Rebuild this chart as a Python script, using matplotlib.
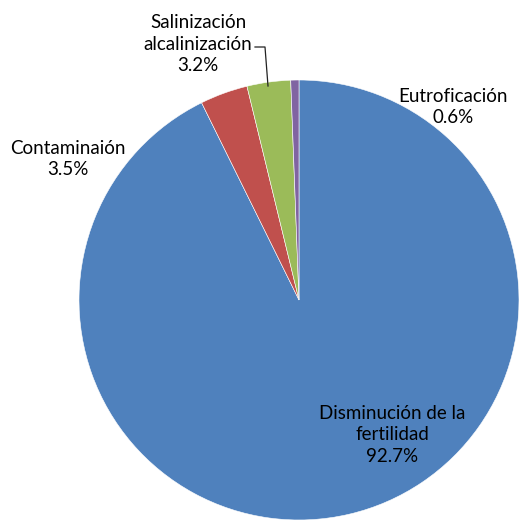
import matplotlib.pyplot as plt
from matplotlib.lines import Line2D

# Causas de degradación del suelo (%)
categorias = ["Disminución de la\nfertilidad", "Contaminaión",
              "Salinización\nalcalinización", "Eutroficación"]
porcentajes = [92.7, 3.5, 3.2, 0.6]
colores = ["#4F81BD", "#C0504D", "#9BBB59", "#8064A2"]

W, H = 519, 526
plt.rcParams['font.family'] = ['Lato', 'DejaVu Sans']

fig = plt.figure(figsize=(W / 100, H / 100), dpi=100)
cx, cy, r = 299, 300, 220
ax = fig.add_axes([(cx - r) / W, (H - cy - r) / H, 2 * r / W, 2 * r / H])
ax.pie(porcentajes, colors=colores, startangle=90, counterclock=False,
       radius=1, wedgeprops=dict(linewidth=0.4, edgecolor='white'))
ax.set_xlim(-1, 1)
ax.set_ylim(-1, 1)
ax.set_aspect('equal')
ax.axis('off')


def px(x, y):
    return x / W, 1 - y / H


# posiciones de las etiquetas en píxeles (centro del bloque de texto)
pos_etiquetas = [(392, 435), (68, 159), (198, 44), (453, 107)]
for cat, val, (x, y) in zip(categorias, porcentajes, pos_etiquetas):
    fig.text(*px(x, y), f"{cat}\n{val:.1f}%", ha='center', va='center',
             fontsize=13.5, linespacing=1.3, color='black')

# línea guía de la etiqueta de salinización
xs, ys = zip(px(255, 47), px(265, 47), px(268, 86))
fig.add_artist(Line2D(xs, ys, color='#222222', linewidth=0.9))

fig.savefig("out.png", dpi=100)
